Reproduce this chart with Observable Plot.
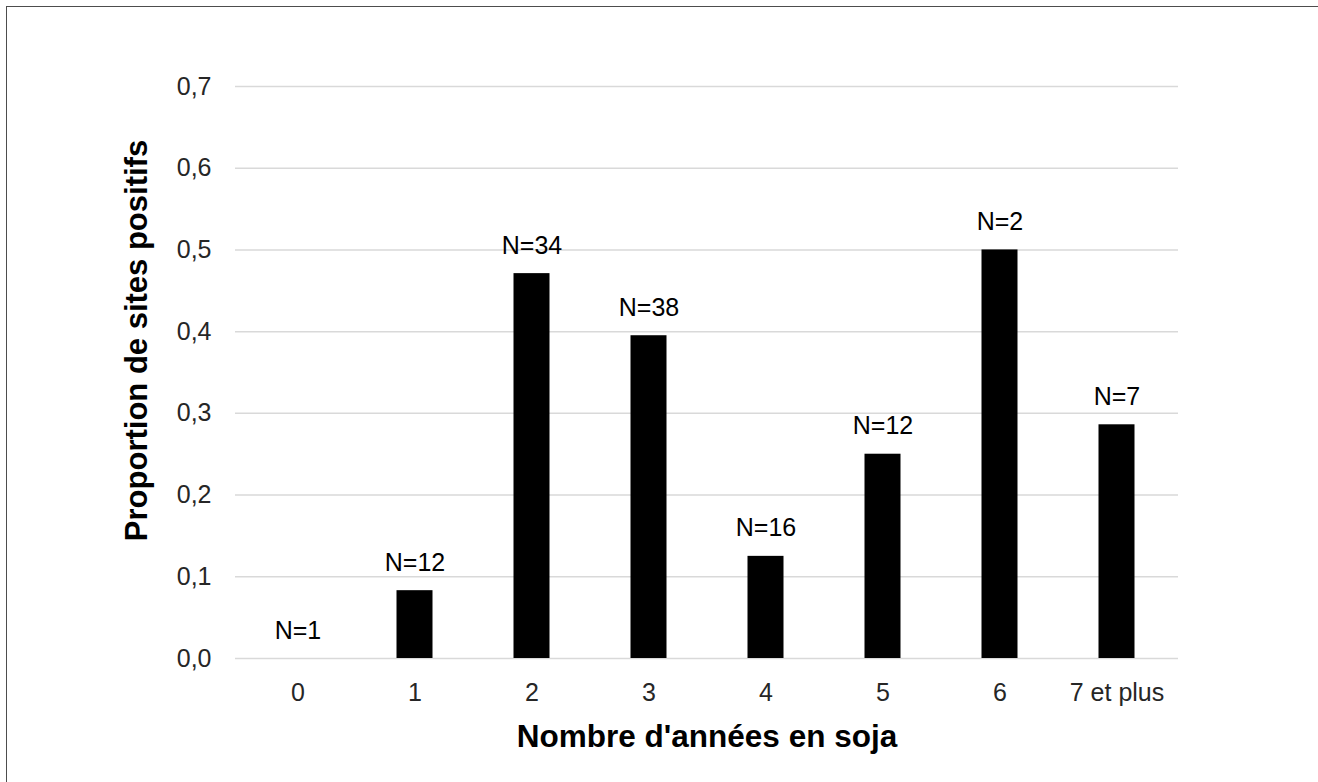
<!DOCTYPE html>
<html>
<head>
<meta charset="utf-8">
<script src="https://cdn.jsdelivr.net/npm/d3@7"></script>
<script src="https://cdn.jsdelivr.net/npm/@observablehq/plot@0.6"></script>
<style>
  html, body { margin: 0; padding: 0; background: #fff; overflow: hidden; }
  #frame { position: absolute; left: 6px; top: 6px; width: 1400px; height: 900px; border: 1px solid #4d4d4d; box-sizing: border-box; }
  #chart { position: absolute; left: 0; top: 0; }
</style>
</head>
<body>
<div id="frame"></div>
<div id="chart"></div>
<script>
const categories = ["0", "1", "2", "3", "4", "5", "6", "7 et plus"];
const proportions = [0, 0.083, 0.471, 0.395, 0.125, 0.25, 0.5, 0.286];
const sampleLabels = ["N=1", "N=12", "N=34", "N=38", "N=16", "N=12", "N=2", "N=7"];
const yTicks = [0, 0.1, 0.2, 0.3, 0.4, 0.5, 0.6, 0.7];
const xTitle = "Nombre d'années en soja";
const yTitle = "Proportion de sites positifs";

const data = categories.map((c, i) => ({cat: c, value: proportions[i], label: sampleLabels[i]}));
const fmt = d => d3.format(".1f")(d).replace(".", ",");

const chart = Plot.plot({
  width: 1318,
  height: 782,
  marginLeft: 235,
  marginRight: 140,
  marginTop: 86,
  marginBottom: 124,
  style: {fontFamily: "'Liberation Sans', Arial, sans-serif", fontSize: "25px", color: "#262626", background: "transparent"},
  x: {domain: categories, padding: 0, label: null},
  y: {domain: [0, 0.7], label: null},
  marks: [
    Plot.gridY(yTicks, {stroke: "#d9d9d9", strokeOpacity: 1, strokeWidth: 1.5}),
    Plot.barY(data, {x: "cat", y: "value", fill: "#000", insetLeft: 40.5, insetRight: 40.5}),
    Plot.text(data, {x: "cat", y: "value", text: "label", dy: -20, lineAnchor: "bottom", fill: "#000", fontSize: 25}),
    Plot.axisY({ticks: yTicks, tickFormat: fmt, tickSize: 0, tickPadding: 24, label: null, fontSize: 25}),
    Plot.axisX({tickSize: 0, tickPadding: 25, label: null, fontSize: 25}),
    Plot.text([xTitle], {frameAnchor: "bottom", text: d => d, dy: 78, dx: 0, lineAnchor: "middle", fontWeight: "bold", fontSize: 31.5, fill: "#000"}),
    Plot.text([yTitle], {frameAnchor: "left", text: d => d, rotate: -90, textAnchor: "middle", dx: -98, dy: -32, lineAnchor: "middle", fontWeight: "bold", fontSize: 31, fill: "#000"})
  ]
});
document.getElementById("chart").appendChild(chart);
</script>
</body>
</html>
